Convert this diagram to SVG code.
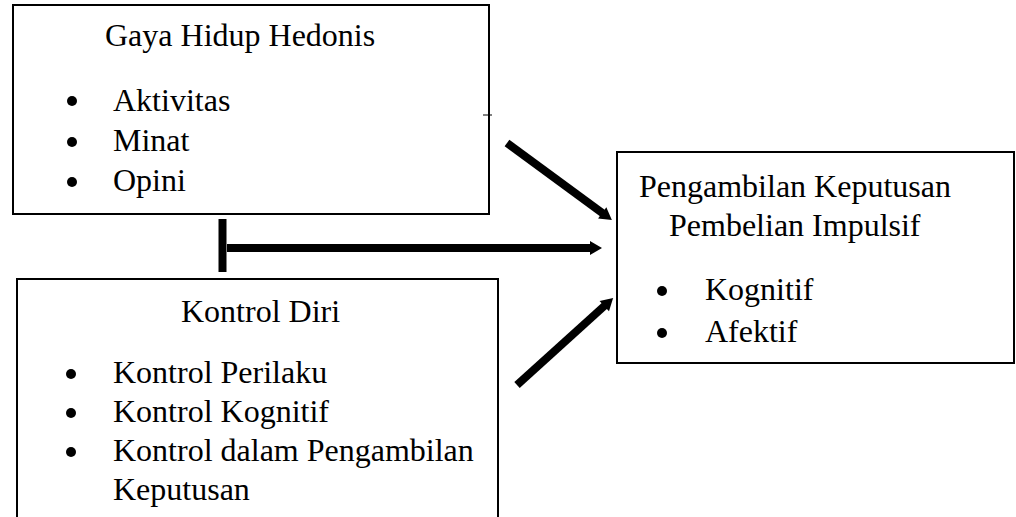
<svg xmlns="http://www.w3.org/2000/svg" width="1016" height="517" viewBox="0 0 1016 517">
<defs>
<style>
.box{fill:#fff;stroke:#000;stroke-width:2}
.t{font-family:'Liberation Serif','Times New Roman','DejaVu Serif',serif;font-size:32px;fill:#000}
.b{fill:#000}
.c{stroke:#000;stroke-width:8;fill:none}
</style>
<marker id="ah" markerUnits="userSpaceOnUse" markerWidth="14" markerHeight="16" refX="0" refY="8" orient="auto" overflow="visible">
<path d="M-1,1 L11,8 L-1,15 Z" fill="#000"/>
</marker>
</defs>
<rect width="1016" height="517" fill="#fff"/>
<g id="connectors">
<line class="c" x1="222.5" y1="219" x2="222.5" y2="272"/>
<line class="c" x1="227" y1="248" x2="591" y2="248" marker-end="url(#ah)"/>
<line class="c" x1="507" y1="143" x2="603" y2="213.5" marker-end="url(#ah)"/>
<line class="c" x1="517" y1="385" x2="605" y2="305.4" marker-end="url(#ah)"/>
</g>
<g id="gaya-hidup-hedonis">
<rect class="box" x="13" y="5" width="476" height="209"/>
<line x1="483" y1="115" x2="492" y2="115" stroke="#000" stroke-width="1"/>
<text class="t" x="105" y="46">Gaya Hidup Hedonis</text>
<circle class="b" cx="72" cy="101" r="5"/>
<circle class="b" cx="72" cy="142" r="5"/>
<circle class="b" cx="72" cy="182" r="5"/>
<text class="t" x="113" y="111">Aktivitas</text>
<text class="t" x="113" y="151">Minat</text>
<text class="t" x="113" y="191">Opini</text>
</g>
<g id="kontrol-diri">
<rect class="box" x="17" y="279" width="481" height="260"/>
<text class="t" x="181" y="322">Kontrol Diri</text>
<circle class="b" cx="71" cy="374" r="5"/>
<circle class="b" cx="71" cy="413" r="5"/>
<circle class="b" cx="71" cy="452" r="5"/>
<text class="t" x="113" y="383">Kontrol Perilaku</text>
<text class="t" x="113" y="422">Kontrol Kognitif</text>
<text class="t" x="113" y="461">Kontrol dalam Pengambilan</text>
<text class="t" x="113" y="500">Keputusan</text>
</g>
<g id="pengambilan-keputusan">
<rect class="box" x="617" y="152" width="397" height="211"/>
<text class="t" x="639" y="197">Pengambilan Keputusan</text>
<text class="t" x="669" y="236">Pembelian Impulsif</text>
<circle class="b" cx="662" cy="291" r="5"/>
<circle class="b" cx="662" cy="333" r="5"/>
<text class="t" x="705" y="300">Kognitif</text>
<text class="t" x="705" y="342">Afektif</text>
</g>
</svg>
